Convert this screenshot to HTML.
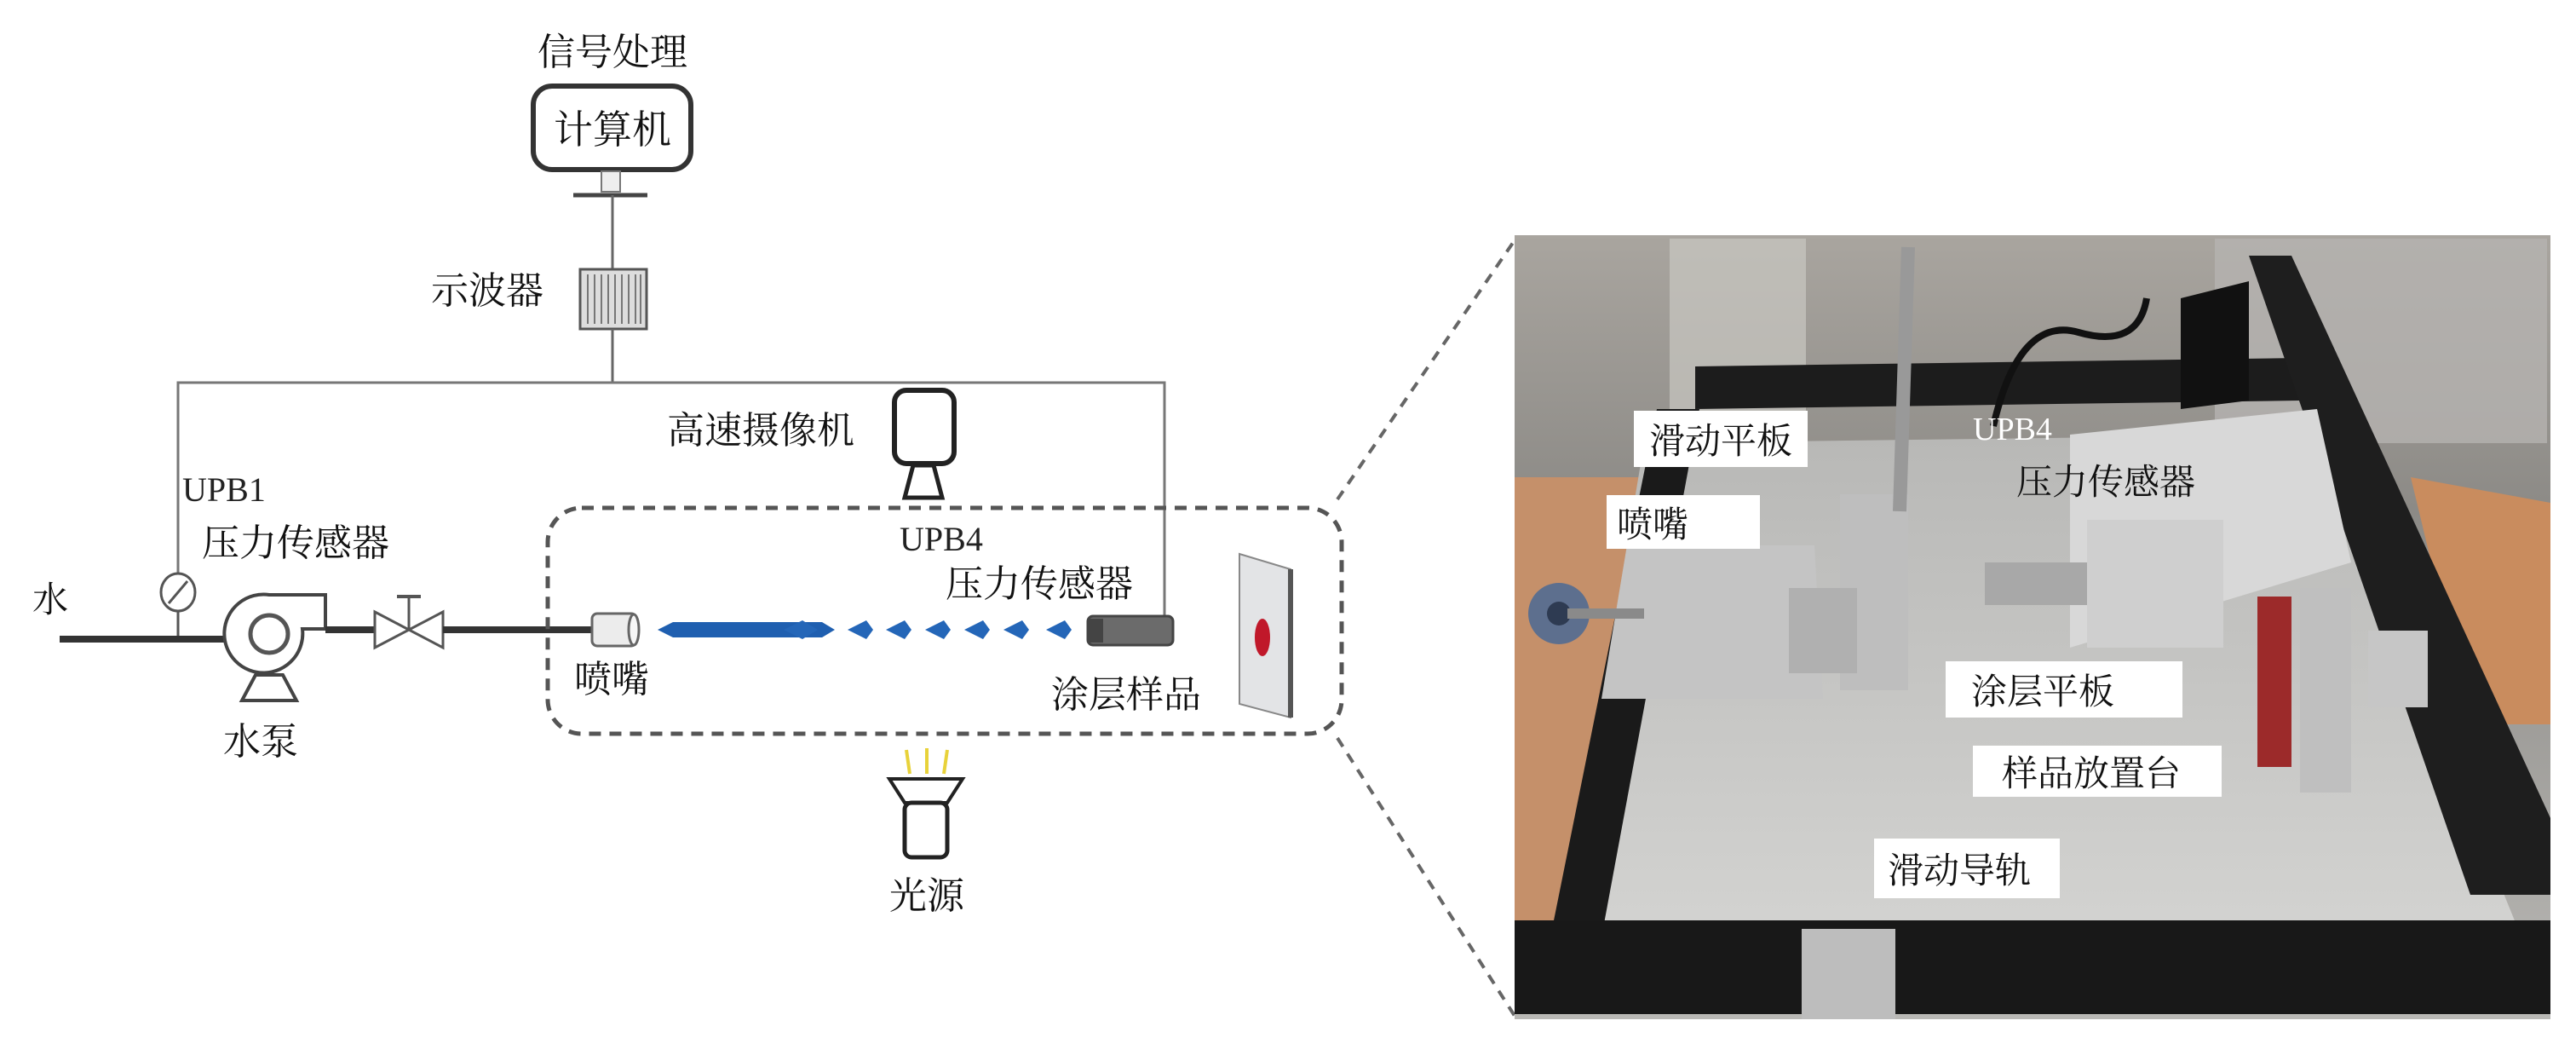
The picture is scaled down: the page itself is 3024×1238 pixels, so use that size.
<!DOCTYPE html>
<html><head><meta charset="utf-8"><style>
html,body{margin:0;padding:0;background:#fff;}
svg{display:block}
.cn{font-family:"Liberation Serif","Noto Serif CJK SC","Noto Sans CJK SC",serif;fill:#111;}
.en{font-family:"Liberation Serif",serif;fill:#222;}
</style></head><body>
<svg width="3024" height="1238" viewBox="0 0 3024 1238" xmlns="http://www.w3.org/2000/svg">
<defs>
<linearGradient id="bg" x1="0" y1="0" x2="0" y2="1"><stop offset="0" stop-color="#a9a59f"/><stop offset="0.35" stop-color="#8c8a86"/><stop offset="1" stop-color="#b9b8b5"/></linearGradient>
<linearGradient id="fl" x1="0" y1="0" x2="0" y2="1"><stop offset="0" stop-color="#b8b8b6"/><stop offset="1" stop-color="#d4d4d2"/></linearGradient>
</defs>
<text class="cn" x="719" y="76" font-size="44" text-anchor="middle">信号处理</text>
<rect x="626" y="101" width="185" height="98" rx="22" fill="#fff" stroke="#333" stroke-width="6"/>
<text class="cn" x="719" y="168" font-size="46" text-anchor="middle">计算机</text>
<rect x="706" y="201" width="22" height="24" fill="#eee" stroke="#777" stroke-width="2"/>
<line x1="673" y1="229" x2="760" y2="229" stroke="#444" stroke-width="5"/>
<line x1="719" y1="229" x2="719" y2="316" stroke="#666" stroke-width="3"/>
<rect x="681" y="316" width="78" height="70" fill="#ddd" stroke="#555" stroke-width="3"/>
<g stroke="#777" stroke-width="2">
<line x1="690" y1="322" x2="690" y2="380"/><line x1="698" y1="322" x2="698" y2="380"/><line x1="706" y1="322" x2="706" y2="380"/><line x1="714" y1="322" x2="714" y2="380"/><line x1="722" y1="322" x2="722" y2="380"/><line x1="730" y1="322" x2="730" y2="380"/><line x1="738" y1="322" x2="738" y2="380"/><line x1="746" y1="322" x2="746" y2="380"/><line x1="752" y1="322" x2="752" y2="380"/></g>
<text class="cn" x="572" y="356" font-size="44" text-anchor="middle">示波器</text>
<line x1="719" y1="386" x2="719" y2="449" stroke="#666" stroke-width="3"/>
<polyline points="209,673 209,449 1367,449 1367,723" fill="none" stroke="#777" stroke-width="3"/>
<rect x="1050" y="458" width="70" height="86" rx="14" fill="#fff" stroke="#222" stroke-width="6"/>
<polygon points="1072,546 1096,546 1106,584 1062,584" fill="#fff" stroke="#222" stroke-width="5"/>
<text class="cn" x="893" y="520" font-size="44" text-anchor="middle">高速摄像机</text>
<text class="en" x="214" y="588" font-size="40">UPB1</text>
<text class="cn" x="237" y="652" font-size="44">压力传感器</text>
<text class="cn" x="38" y="718" font-size="42">水</text>
<ellipse cx="209" cy="695" rx="20" ry="22" fill="#fff" stroke="#555" stroke-width="3"/>
<line x1="198" y1="708" x2="220" y2="682" stroke="#555" stroke-width="3"/>
<line x1="209" y1="717" x2="209" y2="750" stroke="#555" stroke-width="3"/>
<line x1="70" y1="750" x2="270" y2="750" stroke="#333" stroke-width="8"/>
<!-- pump -->
<polygon points="300,792 332,792 348,822 284,822" fill="#fff" stroke="#444" stroke-width="4"/>
<path d="M316,698 L382,698 L382,738 L355,738 A46,46 0 1 1 316,698 z" fill="#fff" stroke="#444" stroke-width="4"/>
<circle cx="316" cy="744" r="22" fill="#fff" stroke="#555" stroke-width="5"/>
<text class="cn" x="306" y="885" font-size="44" text-anchor="middle">水泵</text>
<line x1="382" y1="739" x2="440" y2="739" stroke="#333" stroke-width="8"/>
<polygon points="440,718 520,760 520,718 440,760" fill="#fff" stroke="#555" stroke-width="3"/>
<line x1="480" y1="739" x2="480" y2="700" stroke="#555" stroke-width="3"/>
<line x1="466" y1="700" x2="494" y2="700" stroke="#555" stroke-width="4"/>
<line x1="520" y1="739" x2="695" y2="739" stroke="#333" stroke-width="8"/>
<rect x="695" y="720" width="52" height="38" rx="6" fill="#ececec" stroke="#666" stroke-width="3"/>
<ellipse cx="744" cy="739" rx="6" ry="18" fill="#f6f6f6" stroke="#666" stroke-width="3"/>
<text class="cn" x="718" y="812" font-size="44" text-anchor="middle">喷嘴</text>
<path d="M772,739 L790,730 L965,730 L980,739 L965,748 L790,748 z" fill="#1f5fb0"/>
<g fill="#2466b8">
<path d="M920,739 l22,-11 l18,11 l-18,11 z"/>
<path d="M995,739 l22,-11 l8,11 l-8,11 z"/><path d="M1040,739 l22,-11 l8,11 l-8,11 z"/><path d="M1086,739 l22,-11 l8,11 l-8,11 z"/><path d="M1132,739 l22,-11 l8,11 l-8,11 z"/><path d="M1178,739 l22,-11 l8,11 l-8,11 z"/><path d="M1228,739 l22,-11 l8,11 l-8,11 z"/>
</g>
<rect x="1277" y="723" width="100" height="34" rx="6" fill="#6b6b6b" stroke="#444" stroke-width="3"/>
<rect x="1277" y="726" width="18" height="28" fill="#444"/>
<text class="en" x="1056" y="646" font-size="40">UPB4</text>
<text class="cn" x="1110" y="700" font-size="44">压力传感器</text>
<text class="cn" x="1234" y="830" font-size="44">涂层样品</text>
<polygon points="1455,650 1515,668 1515,842 1455,826" fill="#e3e4e6" stroke="#888" stroke-width="2"/>
<line x1="1515" y1="668" x2="1515" y2="842" stroke="#555" stroke-width="6"/>
<ellipse cx="1482" cy="748" rx="9" ry="22" fill="#c0182a"/>
<rect x="643" y="596" width="932" height="265" rx="40" fill="none" stroke="#555" stroke-width="5" stroke-dasharray="14 10"/>
<g stroke="#e8d23a" stroke-width="4"><line x1="1064" y1="880" x2="1068" y2="908"/><line x1="1088" y1="878" x2="1088" y2="908"/><line x1="1112" y1="880" x2="1108" y2="908"/></g>
<polygon points="1044,914 1130,914 1112,942 1062,942" fill="#fff" stroke="#222" stroke-width="4"/>
<rect x="1062" y="942" width="50" height="64" rx="8" fill="#fff" stroke="#222" stroke-width="5"/>
<text class="cn" x="1088" y="1066" font-size="44" text-anchor="middle">光源</text>
<line x1="1570" y1="586" x2="1778" y2="282" stroke="#666" stroke-width="4" stroke-dasharray="12 10"/>
<line x1="1570" y1="866" x2="1778" y2="1192" stroke="#666" stroke-width="4" stroke-dasharray="12 10"/>
<g>
<rect x="1778" y="276" width="1216" height="920" fill="url(#bg)"/>
<rect x="1960" y="280" width="160" height="260" fill="#c9c7c2" opacity="0.7"/>
<rect x="2600" y="280" width="390" height="240" fill="#b5b3b0" opacity="0.8"/>
<polygon points="1778,560 1930,560 1860,1080 1778,1080" fill="#c5906a"/>
<polygon points="2830,560 2994,590 2994,850 2900,850" fill="#c98c5e"/>
<polygon points="1930,520 2720,510 2960,1100 1830,1120" fill="url(#fl)"/>
<polygon points="1990,430 2700,420 2700,470 1990,480" fill="#1c1c1c"/>
<polygon points="1945,480 1995,480 1880,1100 1820,1100" fill="#1a1a1a"/>
<polygon points="2640,300 2690,300 2994,960 2994,1050 2900,1050" fill="#1e1e1e"/>
<polygon points="2560,350 2640,330 2640,470 2560,480" fill="#111"/>
<rect x="1778" y="1080" width="1216" height="110" fill="#181818"/>
<rect x="2115" y="1090" width="110" height="106" fill="#bdbdbd"/>
<rect x="2780" y="740" width="70" height="90" fill="#c6c6c6"/>
<polygon points="2430,510 2720,480 2760,660 2430,760" fill="#d8d8d8"/>
<rect x="2450" y="610" width="160" height="150" fill="#cfcfcf"/>
<rect x="2330" y="660" width="120" height="50" fill="#a8a8a8"/>
<rect x="2160" y="580" width="80" height="230" fill="#bebebe"/>
<polygon points="1910,640 2130,640 2140,820 1880,820" fill="#c4c4c4"/>
<rect x="2100" y="690" width="80" height="100" fill="#b0b0b0"/>
<rect x="2700" y="690" width="60" height="240" fill="#bfbfbf"/>
<rect x="2650" y="700" width="40" height="200" fill="#9c2a2a"/>
<circle cx="1830" cy="720" r="36" fill="#5d6f8e"/><circle cx="1830" cy="720" r="14" fill="#2e3b52"/>
<line x1="1840" y1="720" x2="1930" y2="720" stroke="#8a8a8a" stroke-width="12"/>
<line x1="2240" y1="290" x2="2230" y2="600" stroke="#999" stroke-width="16"/>
<path d="M2340,500 q30,-130 100,-110 t80,-40" fill="none" stroke="#111" stroke-width="8"/>
</g>
<rect x="1918" y="482" width="204" height="66" fill="#fff"/>
<text class="cn" x="2020" y="532" font-size="42" text-anchor="middle">滑动平板</text>
<rect x="1886" y="581" width="180" height="63" fill="#fff"/>
<text class="cn" x="1940" y="630" font-size="42" text-anchor="middle">喷嘴</text>
<text class="en" x="2316" y="516" font-size="38" style="fill:#fff">UPB4</text>
<text class="cn" x="2472" y="580" font-size="42" text-anchor="middle">压力传感器</text>
<rect x="2284" y="776" width="278" height="66" fill="#fff"/>
<text class="cn" x="2398" y="826" font-size="42" text-anchor="middle">涂层平板</text>
<rect x="2316" y="875" width="292" height="60" fill="#fff"/>
<text class="cn" x="2455" y="922" font-size="42" text-anchor="middle">样品放置台</text>
<rect x="2200" y="984" width="218" height="70" fill="#fff"/>
<text class="cn" x="2300" y="1036" font-size="42" text-anchor="middle">滑动导轨</text>
</svg>
</body></html>
